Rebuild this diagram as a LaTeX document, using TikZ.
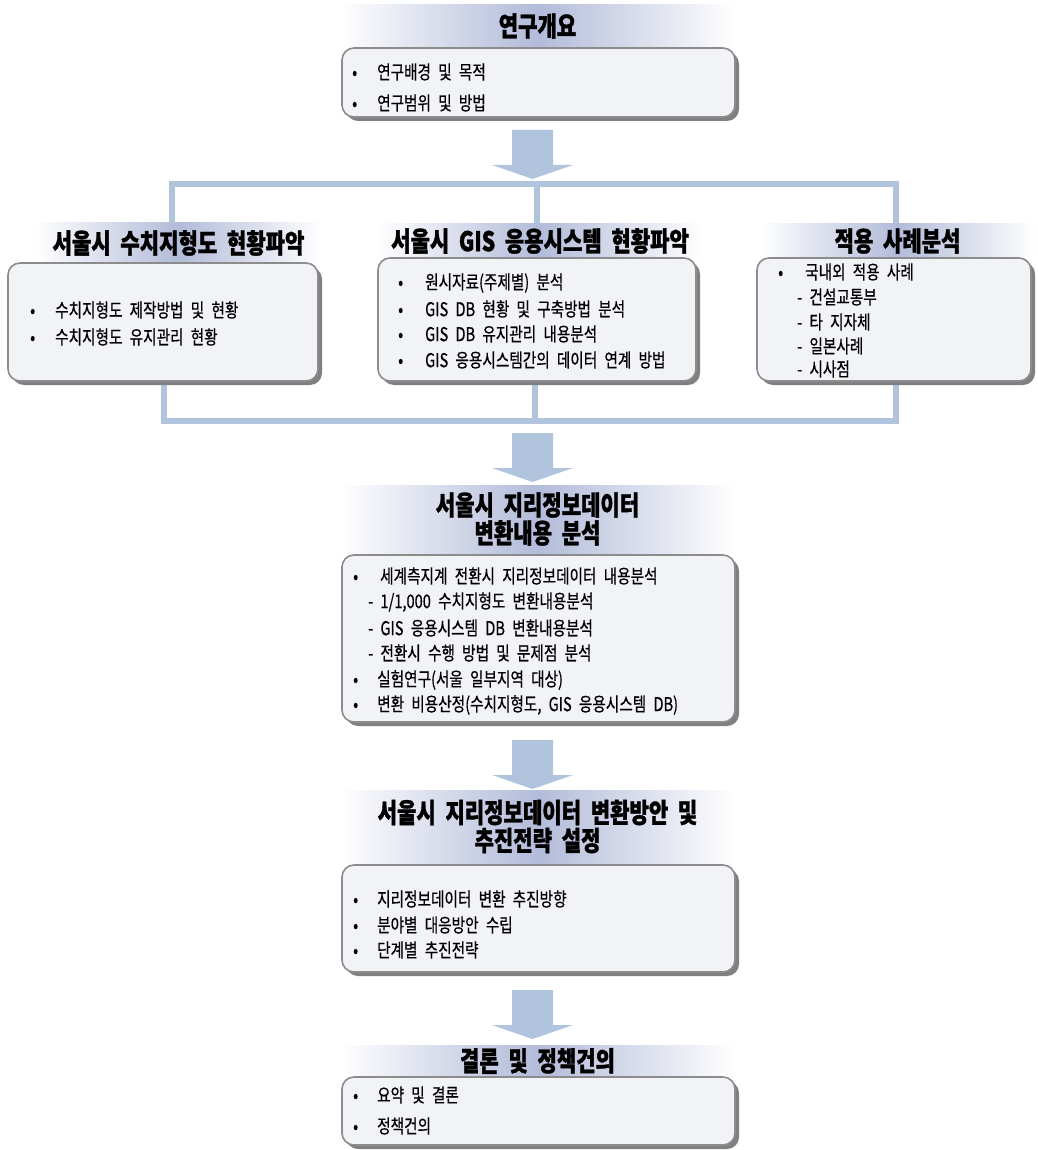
\documentclass[tikz,border=0pt]{standalone}
\usepackage{fontspec}
\usetikzlibrary{shadows,backgrounds}
\newfontfamily\krbody{Noto Sans CJK KR}[FakeStretch=0.77, WordSpace=2.2, FakeBold=0.5]
\newfontfamily\krhead{Noto Sans CJK KR}[FakeStretch=0.78, WordSpace=2.0, BoldFeatures={FakeBold=1.2}]
\definecolor{linkblue}{RGB}{176,196,222}
\definecolor{hdrmid}{RGB}{178,187,217}
\definecolor{boxfill}{RGB}{241,243,247}
\definecolor{boxedge}{RGB}{140,140,140}

\tikzset{
  hband/.style={rectangle, inner sep=0pt, left color=white, right color=white,
    middle color=hdrmid, align=center,
    font=\krhead\bfseries\fontsize{27}{28}\selectfont},
  panel/.style={rectangle, draw=boxedge, line width=1.6pt, fill=boxfill,
    rounded corners=12pt, inner sep=0pt,
    drop shadow={shadow xshift=4pt, shadow yshift=-4pt, fill=black!50, opacity=1}},
  item/.style={anchor=west, inner sep=0pt, font=\krbody\fontsize{19}{20}\selectfont},
  link/.style={draw=linkblue, line width=6pt, line join=miter},
}
% block arrow hanging down from a named coordinate (top centre)
\newcommand\blockarrow[1]{%
  \fill[linkblue] (#1) ++(-20.5,0) -- ++(41,0) -- ++(0,35) -- ++(20,0)
    -- ++(-40.5,14) -- ++(-40.5,-14) -- ++(20,0) -- cycle;}
\newcommand\bul[1]{\makebox[#1pt][l]{•}}

\begin{document}
\begin{tikzpicture}[x=1pt, y=-1pt]
\useasboundingbox (0,0) rectangle (1037,1150);

% ---- research overview
\node[hband, minimum width=395pt, minimum height=42pt] (h1) at (537.5,26) {연구개요};
\node[panel, minimum width=393pt, minimum height=69pt] (p1) at (538.5,82.5) {};
\node[item] (p1a) at (352,72)  {\bul{25}연구배경 및 목적};
\node[item] (p1b) at (352,103) {\bul{25}연구범위 및 방법};

% ---- three survey columns
\node[hband, minimum width=287pt, minimum height=40pt] (h2) at (178.5,243) {서울시 수치지형도 현황파악};
\node[panel, minimum width=310pt, minimum height=118pt] (pL) at (163,322) {};
\node[item] (pLa) at (30,310) {\bul{25}수치지형도 제작방법 및 현황};
\node[item] (pLb) at (30,337) {\bul{25}수치지형도 유지관리 현황};

\node[hband, minimum width=324pt, minimum height=34pt] (h3) at (540,241) {서울시 GIS 응용시스템 현황파악};
\node[panel, minimum width=318pt, minimum height=123pt] (pM) at (537,319.5) {};
\node[item] (pMa) at (398,283) {\bul{27}원시자료(주제별) 분석};
\node[item] (pMb) at (398,309) {\bul{27}GIS DB 현황 및 구축방법 분석};
\node[item] (pMc) at (398,334) {\bul{27}GIS DB 유지관리 내용분석};
\node[item] (pMd) at (398,360) {\bul{27}GIS 응용시스템간의 데이터 연계 방법};

\node[hband, minimum width=275pt, minimum height=34pt] (h4) at (897.5,241) {적용 사례분석};
\node[panel, minimum width=274pt, minimum height=123pt] (pR) at (894,319.5) {};
\node[item] (pRa) at (778,272) {\bul{27}국내외 적용 사례};
\node[item] (pRb) at (797,297) {- 건설교통부};
\node[item] (pRc) at (797,322) {- 타 지자체};
\node[item] (pRd) at (797,346) {- 일본사례};
\node[item] (pRe) at (797,369) {- 시사점};

% ---- conversion analysis
\node[hband, minimum width=395pt, minimum height=68pt] (h5) at (537.5,519) {서울시 지리정보데이터\\변환내용 분석};
\node[panel, minimum width=393pt, minimum height=167pt] (p4) at (538.5,638.5) {};
\node[item] (p4a) at (353,576) {\bul{27}세계측지계 전환시 지리정보데이터 내용분석};
\node[item] (p4b) at (368,602) {- 1/1,000 수치지형도 변환내용분석};
\node[item] (p4c) at (368,628) {- GIS 응용시스템 DB 변환내용분석};
\node[item] (p4d) at (368,653) {- 전환시 수행 방법 및 문제점 분석};
\node[item] (p4e) at (353,680) {\bul{24}실험연구(서울 일부지역 대상)};
\node[item] (p4f) at (353,705) {\bul{24}변환 비용산정(수치지형도, GIS 응용시스템 DB)};

% ---- conversion strategy
\node[hband, minimum width=395pt, minimum height=73pt] (h6) at (537.5,826.5) {서울시 지리정보데이터 변환방안 및\\추진전략 설정};
\node[panel, minimum width=393pt, minimum height=107pt] (p5) at (538.5,918.5) {};
\node[item] (p5a) at (353,899) {\bul{24}지리정보데이터 변환 추진방향};
\node[item] (p5b) at (353,925) {\bul{24}분야별 대응방안 수립};
\node[item] (p5c) at (353,950) {\bul{24}단계별 추진전략};

% ---- conclusion
\node[hband, minimum width=395pt, minimum height=32pt] (h7) at (537.5,1061) {결론 및 정책건의};
\node[panel, minimum width=393pt, minimum height=68pt] (p6) at (538.5,1111) {};
\node[item] (p6a) at (353,1095) {\bul{24}요약 및 결론};
\node[item] (p6b) at (353,1126) {\bul{24}정책건의};

% ---- connectors
\coordinate (tl) at (172,184);
\coordinate (tm) at (537,184);
\coordinate (tr) at (896,184);
\coordinate (bl) at (164,421);
\coordinate (bm) at (535,421);
\coordinate (br) at (896,421);
\begin{scope}[on background layer]
  \draw[link] (h2.north -| tl) -- (tl) -- (tr) -- (h4.north -| tr);
  \draw[link] (tm) -- (h3.north -| tm);
  \draw[link] (pL.south -| bl) -- (bl) -- (br) -- (pR.south -| br);
  \draw[link] (pM.south -| bm) -- (bm);
\end{scope}

\coordinate (a1) at (532.5,130);
\coordinate (a2) at (532.5,433);
\coordinate (a3) at (532.5,740);
\coordinate (a4) at (532.5,990);
\blockarrow{a1}
\blockarrow{a2}
\blockarrow{a3}
\blockarrow{a4}
\end{tikzpicture}
\end{document}
